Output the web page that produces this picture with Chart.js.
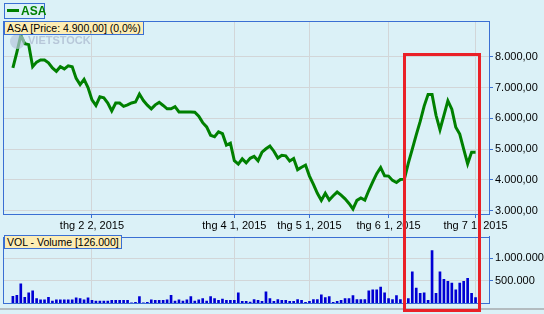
<!DOCTYPE html>
<html>
<head>
<meta charset="utf-8">
<script src="https://cdn.jsdelivr.net/npm/chart.js@4"></script>
<style>
  body { margin: 0; background: #dbf1f7; font-family: "Liberation Sans", Arial, sans-serif; }
  #wrap { position: relative; width: 544px; height: 314px; overflow: hidden; background: #dbf1f7; }
  canvas { position: absolute; left: 0; }
  .box { position: absolute; border: 1px solid #3a6fd3; font-size: 10.5px; line-height: 12px; white-space: nowrap; }
  .info { background: #fdedb4; color: #000; padding: 0 2px; }
  #legend { left: 4px; top: 3px; width: 39px; height: 14px; color: #008000; font-weight: bold; font-size: 12px; line-height: 14px; }
  #legend span { display: inline-block; width: 12px; height: 3px; background: #008000; vertical-align: middle; margin: 0 2px 2px 2px; }
  #mark { position: absolute; border: 3px solid #ea2027; box-sizing: border-box; }
  #sep { position: absolute; left: 0; top: 308px; width: 544px; height: 2px; background: #b3bcc0; }
  #wm { position: absolute; left: 10px; top: 34px; color: #a8b6cc; opacity: 0.7; font: bold 11px "Liberation Sans", Arial; }
  #wm i { display: inline-block; width: 15px; height: 15px; border-radius: 8px; background: #b7c6dc; vertical-align: middle; margin-right: 3px; }
</style>
</head>
<body>
<div id="wrap">
  <canvas id="price" width="544" height="232" style="top:0"></canvas>
  <canvas id="vol" width="544" height="86" style="top:228px"></canvas>
  <div id="wm"><i></i>VIETSTOCK</div>
  <div class="box" id="legend"><span></span>ASA</div>
  <div class="box info" style="left:4px;top:21px;">ASA [Price: 4.900,00] (0,0%)</div>
  <div class="box info" style="left:4px;top:235px;">VOL - Volume [126.000]</div>
  <div id="sep"></div>
  <div id="mark"></div>
</div>
<script>
// daily closes, Jan 5 - Jul 1 2015 (trading days)
const prices = [
  7640, 8150, 8700, 8430, 8400, 7680, 7830, 7900, 7900, 7810,
  7640, 7530, 7680, 7610, 7710, 7680, 7300, 7100, 7270, 7000,
  6600, 6420, 6700, 6670, 6500, 6240, 6500, 6500, 6390, 6440,
  6500, 6530, 6790, 6580, 6430, 6310, 6440, 6520, 6420, 6310,
  6310, 6380, 6210, 6210, 6210, 6210, 6200, 6070, 5860, 5720,
  5450, 5400, 5560, 5500, 5130, 5190, 4620, 4510, 4680, 4550,
  4700, 4760, 4620, 4900, 5010, 5100, 4930, 4710, 4800, 4780,
  4610, 4690, 4330, 4410, 4480, 4120, 3850, 3560, 3330, 3560,
  3340, 3480, 3600, 3500, 3380, 3230, 3050, 3330, 3410, 3340,
  3650, 3930, 4200, 4400, 4130, 4120, 3980, 3910, 4010, 4020,
  4540, 5000, 5460, 5900, 6400, 6780, 6780, 6100, 5630, 6100,
  6570, 6300, 5710, 5490, 5000, 4520, 4900, 4900
];
const volumes = [
  150000, 171000, 427000, 128000, 228000, 270000, 100000, 71000, 71000, 128000,
  43000, 71000, 71000, 71000, 71000, 71000, 114000, 100000, 71000, 114000,
  57000, 43000, 43000, 43000, 43000, 57000, 57000, 57000, 57000, 57000,
  3000, 14000, 142000, 3000, 14000, 71000, 57000, 57000, 57000, 71000,
  171000, 43000, 71000, 43000, 71000, 142000, 43000, 71000, 100000, 43000,
  142000, 100000, 57000, 85000, 57000, 57000, 57000, 228000, 40000, 36000,
  21000, 78000, 57000, 36000, 249000, 100000, 36000, 78000, 57000, 57000,
  36000, 36000, 78000, 57000, 14000, 36000, 78000, 78000, 185000, 121000,
  142000, 14000, 36000, 57000, 100000, 100000, 164000, 78000, 78000, 78000,
  270000, 292000, 292000, 356000, 228000, 100000, 78000, 164000, 78000, 100000,
  100000, 698000, 335000, 214000, 228000, 57000, 1168000, 214000, 698000, 527000,
  484000, 442000, 292000, 442000, 484000, 548000, 214000, 121000
];
const xTickIdx = [20, 56, 75, 95, 117];
const xTickLabels = ["thg 2 2, 2015", "thg 4 1, 2015", "thg 5 1, 2015", "thg 6 1, 2015", "thg 7 1, 2015"];
const priceTicks = [3000, 4000, 5000, 6000, 7000, 8000];
const volTicks = [500000, 1000000];
// highlighted range (trading day index, price top)
const markFrom = 99, markTo = 118, markTop = 8080;

const BLUE = "#3a6fd3", GRID = "#d2d6d8";
const FONT = { family: "'Liberation Sans', Arial, sans-serif", size: 11 };

function fmtNum(v, dec) {
  let s = Math.round(v).toString().replace(/\B(?=(\d{3})+(?!\d))/g, ".");
  return dec ? s + ",00" : s;
}

// left + top border of the plot panel
const frame = {
  id: "frame",
  afterDraw(chart) {
    const a = chart.chartArea, c = chart.ctx;
    c.save();
    c.strokeStyle = BLUE;
    c.lineWidth = 1;
    c.strokeRect(Math.round(a.left) + 0.5, Math.round(a.top) + 0.5, Math.round(a.right - a.left), Math.round(a.bottom - a.top));
    c.restore();
  }
};

function xAxis(showLabels, h) {
  return {
    type: "linear", min: -2.5, max: 120.4, offset: false,
    afterBuildTicks: s => { s.ticks = xTickIdx.map(v => ({ value: v })); },
    afterFit: s => { s.height = h; },
    border: { color: BLUE },
    grid: { offset: false, color: GRID, tickColor: BLUE, tickLength: showLabels ? 4 : 0, drawTicks: showLabels },
    ticks: {
      display: showLabels, autoSkip: false, maxRotation: 0, padding: 1,
      color: "#000", font: FONT,
      callback: v => xTickLabels[xTickIdx.indexOf(v)]
    }
  };
}

const priceChart = new Chart(document.getElementById("price"), {
  type: "line",
  data: {
    datasets: [{
      data: prices.map((v, i) => ({ x: i, y: v })),
      borderColor: "#008000", borderWidth: 3, pointRadius: 0, tension: 0, fill: false
    }]
  },
  options: {
    responsive: false, animation: false,
    layout: { padding: { left: 3, top: 21, right: 0, bottom: 0 } },
    plugins: { legend: { display: false }, tooltip: { enabled: false } },
    scales: {
      x: xAxis(true, 18),
      y: {
        position: "right", min: 2886, max: 9169,
        afterBuildTicks: s => { s.ticks = priceTicks.map(v => ({ value: v })); },
        afterFit: s => { s.width = 55; },
        border: { color: BLUE },
        grid: { color: GRID, tickColor: BLUE, tickLength: 4 },
        ticks: { color: "#000", font: FONT, padding: 2, callback: v => fmtNum(v, true) }
      }
    }
  },
  plugins: [frame]
});

new Chart(document.getElementById("vol"), {
  type: "bar",
  data: {
    datasets: [{
      data: volumes.map((v, i) => ({ x: i, y: v })),
      backgroundColor: "#0000d4", barThickness: 2
    }]
  },
  options: {
    responsive: false, animation: false,
    layout: { padding: { left: 3, top: 6, right: 0, bottom: 0 } },
    plugins: { legend: { display: false }, tooltip: { enabled: false } },
    scales: {
      x: xAxis(false, 11),
      y: {
        position: "right", min: 0, max: 1481000,
        afterBuildTicks: s => { s.ticks = volTicks.map(v => ({ value: v })); },
        afterFit: s => { s.width = 55; },
        border: { color: BLUE },
        grid: { color: GRID, tickColor: BLUE, tickLength: 4 },
        ticks: { color: "#000", font: FONT, padding: 2, callback: v => fmtNum(v, false) }
      }
    }
  },
  plugins: [frame]
});

// red highlight box placed from the price chart's scales
const sx = priceChart.scales.x, sy = priceChart.scales.y;
const m = document.getElementById("mark");
const l = sx.getPixelForValue(markFrom) - 1.5, r = sx.getPixelForValue(markTo) + 1.5;
const t = sy.getPixelForValue(markTop) - 1.5;
m.style.left = l + "px";
m.style.top = t + "px";
m.style.width = (r - l) + "px";
m.style.height = (312.5 - t) + "px";
</script>
</body>
</html>
